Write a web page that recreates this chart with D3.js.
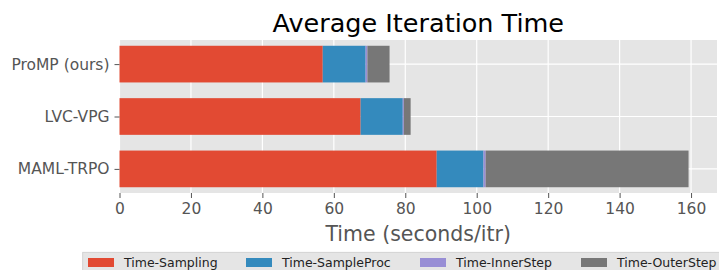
<!DOCTYPE html>
<html><head><meta charset="utf-8">
<script src="https://cdn.jsdelivr.net/npm/d3@7"></script>
<style>
body{margin:0;background:#fff;}
svg{display:block;font-family:"DejaVu Sans",sans-serif;}
</style></head>
<body>
<script>
const categories = ["ProMP (ours)", "LVC-VPG", "MAML-TRPO"];
const seriesNames = ["Time-Sampling", "Time-SampleProc", "Time-InnerStep", "Time-OuterStep"];
const timeSampling   = [56.9, 67.5, 88.8];
const timeSampleProc = [12.0, 11.8, 13.1];
const timeInnerStep  = [0.5, 0.3, 0.6];
const timeOuterStep  = [6.2, 1.9, 56.8];
const xTicks = [0, 20, 40, 60, 80, 100, 120, 140, 160];
const colors = ["#E24A33", "#348ABD", "#988ED5", "#777777"];

const W = 719, H = 270;
const m = {left: 119.5, right: 2, top: 40, bottom: 77};
const svg = d3.select("body").append("svg").attr("width", W).attr("height", H);

const seriesVals = [timeSampling, timeSampleProc, timeInnerStep, timeOuterStep];
const rows = categories.map((c, i) => {
  const r = {cat: c};
  seriesNames.forEach((s, j) => r[s] = seriesVals[j][i]);
  return r;
});
const stacked = d3.stack().keys(seriesNames)(rows);
const maxTotal = d3.max(rows, r => seriesNames.reduce((a, s) => a + r[s], 0));

const x = d3.scaleLinear().domain([0, maxTotal * 1.05]).range([m.left, W - m.right]);
const y = d3.scaleLinear().domain([-0.46, 2.46]).range([m.top, H - m.bottom]);
const bh = y(0.35) - y(-0.35);

svg.append("rect").attr("x", m.left).attr("y", m.top)
  .attr("width", W - m.right - m.left).attr("height", H - m.bottom - m.top).attr("fill", "#E5E5E5");

// grid
svg.append("g").selectAll("line").data(xTicks).join("line")
  .attr("x1", d => x(d)).attr("x2", d => x(d)).attr("y1", m.top).attr("y2", H - m.bottom)
  .attr("stroke", "#fff").attr("stroke-width", 1.2);
svg.append("g").selectAll("line").data(categories).join("line")
  .attr("x1", m.left).attr("x2", W - m.right).attr("y1", (d, i) => y(i)).attr("y2", (d, i) => y(i))
  .attr("stroke", "#fff").attr("stroke-width", 1.2);

// bars
svg.append("g").selectAll("g").data(stacked).join("g")
  .attr("fill", (d, i) => colors[i])
  .selectAll("rect").data(d => d).join("rect")
  .attr("x", d => x(d[0])).attr("width", d => x(d[1]) - x(d[0]))
  .attr("y", (d, i) => y(i) - bh / 2).attr("height", bh);

// x axis
const xa = svg.append("g").attr("transform", `translate(0,${H - m.bottom})`)
  .call(d3.axisBottom(x).tickValues(xTicks).tickSize(5).tickPadding(5).tickFormat(d3.format("d")));
xa.select(".domain").remove();
xa.selectAll("line").attr("stroke", "#555").attr("stroke-width", 1);
xa.selectAll("text").attr("fill", "#555").attr("font-size", 15.5).attr("font-family", "DejaVu Sans");

// y axis
const ya = svg.append("g").attr("transform", `translate(${m.left},0)`)
  .call(d3.axisLeft(y).tickValues([0, 1, 2]).tickSize(5).tickPadding(5).tickFormat(i => categories[i]));
ya.select(".domain").remove();
ya.selectAll("line").attr("stroke", "#555").attr("stroke-width", 1);
ya.selectAll("text").attr("fill", "#555").attr("font-size", 15.5).attr("font-family", "DejaVu Sans");

// title
svg.append("text").attr("x", (m.left + W - m.right) / 2).attr("y", 31.5)
  .attr("text-anchor", "middle").attr("font-size", 25.5).attr("fill", "#000").text("Average Iteration Time");

// x label
svg.append("text").attr("x", (m.left + W - m.right) / 2).attr("y", 240.5)
  .attr("text-anchor", "middle").attr("font-size", 20.5).attr("fill", "#555").text("Time (seconds/itr)");

// legend
const lg = svg.append("g");
lg.append("rect").attr("x", 82.7).attr("y", 252.3).attr("width", 660).attr("height", 30)
  .attr("fill", "#E5E5E5").attr("stroke", "#ccc").attr("stroke-width", 0.8);
const lx = [88, 246, 420, 581];
seriesNames.forEach((s, i) => {
  lg.append("rect").attr("x", lx[i]).attr("y", 258).attr("width", 26).attr("height", 9).attr("fill", colors[i]);
  lg.append("text").attr("x", lx[i] + 36).attr("y", 267).attr("font-size", 12.5).attr("fill", "#222").text(s);
});
</script>
</body></html>
